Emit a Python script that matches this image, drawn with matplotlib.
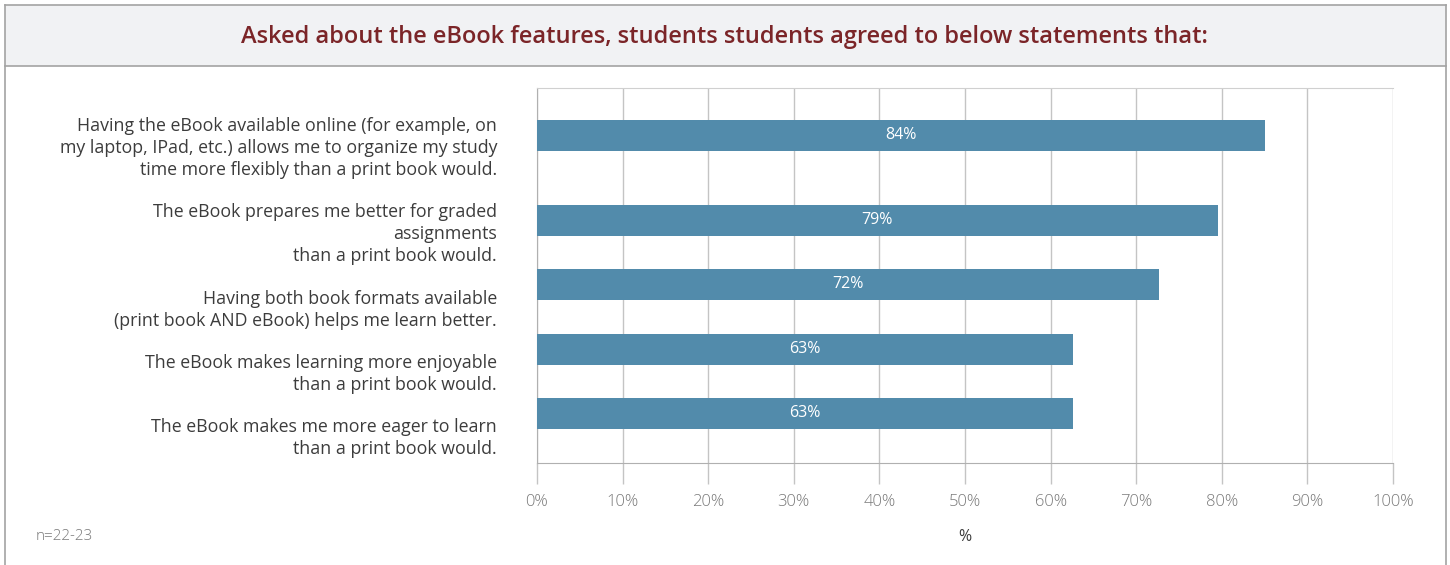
import matplotlib
matplotlib.use("Agg")
import matplotlib.pyplot as plt
import matplotlib.transforms as mtransforms
from matplotlib.patches import Rectangle
from matplotlib.lines import Line2D

# ---- data ----
categories = [
    "Having the eBook available online (for example, on\nmy laptop, IPad, etc.) allows me to organize my study\ntime more flexibly than a print book would.",
    "The eBook prepares me better for graded\nassignments\nthan a print book would.",
    "Having both book formats available\n(print book AND eBook) helps me learn better.",
    "The eBook makes learning more enjoyable\nthan a print book would.",
    "The eBook makes me more eager to learn\nthan a print book would.",
]
values = [85.0, 79.5, 72.7, 62.6, 62.6]
value_labels = ["84%", "79%", "72%", "63%", "63%"]
xticks = [0, 10, 20, 30, 40, 50, 60, 70, 80, 90, 100]
xtick_labels = ["0%", "10%", "20%", "30%", "40%", "50%", "60%", "70%", "80%", "90%", "100%"]
title = "Asked about the eBook features, students students agreed to below statements that:"
note = "n=22-23"
xlabel = "%"

# ---- layout (pixel based, axis spans 375 px vertically) ----
row_pos = [47, 132, 196, 261, 325]
label_pos = [60, 146, 222, 286, 350]
bar_h = 31

W, H = 1450, 565
fig = plt.figure(figsize=(W / 100, H / 100), dpi=100)
fig.patch.set_facecolor("white")

FONT = ["Open Sans", "DejaVu Sans"]
bar_color = "#528bab"
grid_color = "#c4c4c4"
frame_color = "#a3a3a3"

# outer frame and title band
fig.patches.append(Rectangle((5 / W, 1 - 66 / H), 1441 / W, 61 / H, transform=fig.transFigure,
                             facecolor="#f1f2f4", edgecolor="none", zorder=0))
for (x0, y0, x1, y1) in [(5, 5, 1446, 5), (5, 66, 1446, 66), (5, 5, 5, 565), (1446, 5, 1446, 565)]:
    fig.lines.append(Line2D([x0 / W, x1 / W], [1 - y0 / H, 1 - y1 / H], transform=fig.transFigure,
                            color=frame_color, lw=1.2))

fig.text(724 / W, 1 - 37 / H, title, ha="center", va="center", fontsize=17,
         fontweight="semibold", color="#7b2528", family=FONT)

ax = fig.add_axes([537 / W, 1 - 463 / H, 856 / W, 375 / H])
ax.set_xlim(0, 100)
ax.set_ylim(375, 0)

ax.barh(row_pos, values, height=bar_h, color=bar_color, zorder=3)
for y, v, t in zip(row_pos, values, value_labels):
    ax.text(v / 2, y, t, ha="center", va="center", color="white", fontsize=11.5, family=FONT, zorder=4)

ax.set_xticks(xticks)
ax.set_xticklabels(xtick_labels, family=FONT, fontsize=12, fontweight="light", color="#7a7a7a")
ax.set_yticks([])
ax.tick_params(axis="x", length=15, width=1, color=grid_color, pad=7)
ax.grid(axis="x", color=grid_color, lw=1, zorder=0)
ax.set_axisbelow(True)
ax.spines["right"].set_visible(False)
ax.spines["top"].set_color("#d0d0d0")
ax.spines["left"].set_color("#b0b0b0")
ax.spines["bottom"].set_color("#b0b0b0")

trans = mtransforms.blended_transform_factory(fig.transFigure, ax.transData)
for y, c in zip(label_pos, categories):
    fig.text(497 / W, y, c, transform=trans, ha="right", va="center", multialignment="right",
             fontsize=12.8, color="#3c3c3c", family=FONT, linespacing=1.28)

fig.text(965 / W, 1 - 537 / H, xlabel, ha="center", va="center", fontsize=11.5, color="#3c3c3c", family=FONT)
fig.text(36 / W, 1 - 537 / H, note, ha="left", va="center", fontsize=11, fontweight="light",
         color="#7a7a7a", family=FONT)

fig.savefig("out.png", dpi=100, facecolor="white")
